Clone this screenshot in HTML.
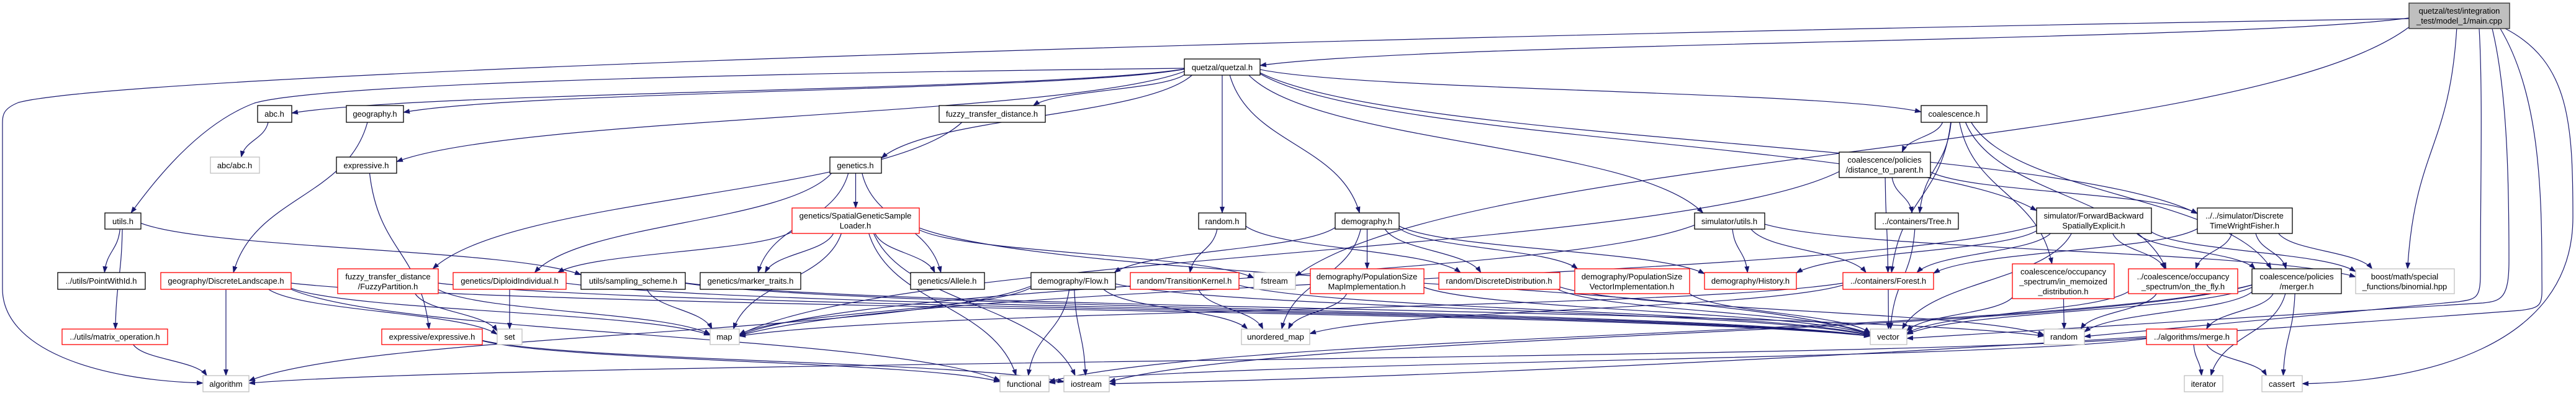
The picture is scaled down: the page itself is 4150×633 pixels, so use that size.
<!DOCTYPE html>
<html><head><meta charset="utf-8"><style>
html,body{margin:0;padding:0;background:#fff;}
svg{display:block;}
text{font-family:"Liberation Sans",Arial,sans-serif;font-size:13px;fill:#000;text-anchor:middle;}
</style></head><body>
<svg id="g" width="4150" height="633" viewBox="0 0 4150 633" xmlns="http://www.w3.org/2000/svg">
<defs><marker id="ah" markerWidth="11" markerHeight="8" refX="10" refY="4" orient="auto" markerUnits="userSpaceOnUse"><path d="M0,0 L11,4 L0,8 z" fill="#191970"/></marker></defs>
<g id="edges" fill="none" stroke="#191970" stroke-width="1.2"></g>
<g id="nodes">
<rect x="3881" y="5" width="162" height="41" fill="#bfbfbf" stroke="#404040" stroke-width="1.5"/><text x="3962" y="22">quetzal/test/integration</text><text x="3962" y="38">_test/model_1/main.cpp</text>
<rect x="1908" y="95" width="122" height="26" fill="#fff" stroke="#000" stroke-width="1.3"/><text x="1969" y="113">quetzal/quetzal.h</text>
<rect x="415" y="170" width="55" height="27" fill="#fff" stroke="#000" stroke-width="1.3"/><text x="442" y="188">abc.h</text>
<rect x="558" y="170" width="92" height="27" fill="#fff" stroke="#000" stroke-width="1.3"/><text x="604" y="188">geography.h</text>
<rect x="1513" y="170" width="171" height="27" fill="#fff" stroke="#000" stroke-width="1.3"/><text x="1598" y="188">fuzzy_transfer_distance.h</text>
<rect x="3095" y="170" width="106" height="27" fill="#fff" stroke="#000" stroke-width="1.3"/><text x="3148" y="188">coalescence.h</text>
<rect x="339" y="253" width="79" height="26" fill="#fff" stroke="#bfbfbf" stroke-width="1.3"/><text x="378" y="271">abc/abc.h</text>
<rect x="542" y="253" width="97" height="26" fill="#fff" stroke="#000" stroke-width="1.3"/><text x="590" y="271">expressive.h</text>
<rect x="1337" y="253" width="83" height="26" fill="#fff" stroke="#000" stroke-width="1.3"/><text x="1378" y="271">genetics.h</text>
<rect x="2963" y="245" width="147" height="41" fill="#fff" stroke="#000" stroke-width="1.3"/><text x="3036" y="262">coalescence/policies</text><text x="3036" y="278">/distance_to_parent.h</text>
<rect x="169" y="343" width="58" height="26" fill="#fff" stroke="#000" stroke-width="1.3"/><text x="198" y="361">utils.h</text>
<rect x="1276" y="335" width="205" height="41" fill="#fff" stroke="#ff0000" stroke-width="1.3"/><text x="1378" y="352">genetics/SpatialGeneticSample</text><text x="1378" y="368">Loader.h</text>
<rect x="1931" y="343" width="76" height="26" fill="#fff" stroke="#000" stroke-width="1.3"/><text x="1969" y="361">random.h</text>
<rect x="2151" y="343" width="103" height="26" fill="#fff" stroke="#000" stroke-width="1.3"/><text x="2202" y="361">demography.h</text>
<rect x="2730" y="343" width="113" height="26" fill="#fff" stroke="#000" stroke-width="1.3"/><text x="2786" y="361">simulator/utils.h</text>
<rect x="3021" y="343" width="134" height="26" fill="#fff" stroke="#000" stroke-width="1.3"/><text x="3088" y="361">../containers/Tree.h</text>
<rect x="3281" y="335" width="185" height="41" fill="#fff" stroke="#000" stroke-width="1.3"/><text x="3373" y="352">simulator/ForwardBackward</text><text x="3373" y="368">SpatiallyExplicit.h</text>
<rect x="3540" y="335" width="153" height="41" fill="#fff" stroke="#000" stroke-width="1.3"/><text x="3616" y="352">../../simulator/Discrete</text><text x="3616" y="368">TimeWrightFisher.h</text>
<rect x="93" y="439" width="141" height="27" fill="#fff" stroke="#000" stroke-width="1.3"/><text x="163" y="457">../utils/PointWithId.h</text>
<rect x="259" y="439" width="210" height="27" fill="#fff" stroke="#ff0000" stroke-width="1.3"/><text x="364" y="457">geography/DiscreteLandscape.h</text>
<rect x="544" y="433" width="162" height="40" fill="#fff" stroke="#ff0000" stroke-width="1.3"/><text x="625" y="450">fuzzy_transfer_distance</text><text x="625" y="466">/FuzzyPartition.h</text>
<rect x="730" y="439" width="182" height="27" fill="#fff" stroke="#ff0000" stroke-width="1.3"/><text x="821" y="457">genetics/DiploidIndividual.h</text>
<rect x="936" y="439" width="168" height="27" fill="#fff" stroke="#000" stroke-width="1.3"/><text x="1020" y="457">utils/sampling_scheme.h</text>
<rect x="1128" y="439" width="162" height="27" fill="#fff" stroke="#000" stroke-width="1.3"/><text x="1209" y="457">genetics/marker_traits.h</text>
<rect x="1467" y="439" width="119" height="27" fill="#fff" stroke="#000" stroke-width="1.3"/><text x="1526" y="457">genetics/Allele.h</text>
<rect x="1661" y="439" width="136" height="27" fill="#fff" stroke="#000" stroke-width="1.3"/><text x="1729" y="457">demography/Flow.h</text>
<rect x="1821" y="439" width="175" height="27" fill="#fff" stroke="#ff0000" stroke-width="1.3"/><text x="1908" y="457">random/TransitionKernel.h</text>
<rect x="2020" y="439" width="67" height="27" fill="#fff" stroke="#bfbfbf" stroke-width="1.3"/><text x="2053" y="457">fstream</text>
<rect x="2111" y="433" width="183" height="40" fill="#fff" stroke="#ff0000" stroke-width="1.3"/><text x="2202" y="450">demography/PopulationSize</text><text x="2202" y="466">MapImplementation.h</text>
<rect x="2318" y="439" width="195" height="27" fill="#fff" stroke="#ff0000" stroke-width="1.3"/><text x="2415" y="457">random/DiscreteDistribution.h</text>
<rect x="2537" y="433" width="185" height="40" fill="#fff" stroke="#ff0000" stroke-width="1.3"/><text x="2629" y="450">demography/PopulationSize</text><text x="2629" y="466">VectorImplementation.h</text>
<rect x="2746" y="439" width="148" height="27" fill="#fff" stroke="#ff0000" stroke-width="1.3"/><text x="2820" y="457">demography/History.h</text>
<rect x="2969" y="439" width="146" height="27" fill="#fff" stroke="#ff0000" stroke-width="1.3"/><text x="3042" y="457">../containers/Forest.h</text>
<rect x="3242" y="425" width="164" height="56" fill="#fff" stroke="#ff0000" stroke-width="1.3"/><text x="3324" y="442">coalescence/occupancy</text><text x="3324" y="458">_spectrum/in_memoized</text><text x="3324" y="474">_distribution.h</text>
<rect x="3429" y="433" width="176" height="40" fill="#fff" stroke="#ff0000" stroke-width="1.3"/><text x="3517" y="450">../coalescence/occupancy</text><text x="3517" y="466">_spectrum/on_the_fly.h</text>
<rect x="3628" y="433" width="144" height="40" fill="#fff" stroke="#000" stroke-width="1.3"/><text x="3700" y="450">coalescence/policies</text><text x="3700" y="466">/merger.h</text>
<rect x="3795" y="433" width="159" height="40" fill="#fff" stroke="#bfbfbf" stroke-width="1.3"/><text x="3874" y="450">boost/math/special</text><text x="3874" y="466">_functions/binomial.hpp</text>
<rect x="100" y="530" width="170" height="25" fill="#fff" stroke="#ff0000" stroke-width="1.3"/><text x="185" y="547">../utils/matrix_operation.h</text>
<rect x="615" y="530" width="162" height="25" fill="#fff" stroke="#ff0000" stroke-width="1.3"/><text x="696" y="547">expressive/expressive.h</text>
<rect x="801" y="530" width="40" height="25" fill="#fff" stroke="#bfbfbf" stroke-width="1.3"/><text x="821" y="547">set</text>
<rect x="1144" y="530" width="47" height="25" fill="#fff" stroke="#bfbfbf" stroke-width="1.3"/><text x="1167" y="547">map</text>
<rect x="2000" y="530" width="110" height="25" fill="#fff" stroke="#bfbfbf" stroke-width="1.3"/><text x="2055" y="547">unordered_map</text>
<rect x="3013" y="530" width="59" height="25" fill="#fff" stroke="#bfbfbf" stroke-width="1.3"/><text x="3042" y="547">vector</text>
<rect x="3293" y="530" width="65" height="25" fill="#fff" stroke="#bfbfbf" stroke-width="1.3"/><text x="3325" y="547">random</text>
<rect x="3458" y="530" width="146" height="25" fill="#fff" stroke="#ff0000" stroke-width="1.3"/><text x="3531" y="547">../algorithms/merge.h</text>
<rect x="327" y="605" width="74" height="26" fill="#fff" stroke="#bfbfbf" stroke-width="1.3"/><text x="364" y="623">algorithm</text>
<rect x="1611" y="605" width="79" height="26" fill="#fff" stroke="#bfbfbf" stroke-width="1.3"/><text x="1650" y="623">functional</text>
<rect x="1714" y="605" width="73" height="26" fill="#fff" stroke="#bfbfbf" stroke-width="1.3"/><text x="1750" y="623">iostream</text>
<rect x="3519" y="605" width="62" height="26" fill="#fff" stroke="#bfbfbf" stroke-width="1.3"/><text x="3550" y="623">iterator</text>
<rect x="3644" y="605" width="65" height="26" fill="#fff" stroke="#bfbfbf" stroke-width="1.3"/><text x="3676" y="623">cassert</text>
</g>
</svg>
<script>
var B={main:[3881,5,4043,46],q:[1908,95,2030,121],abc:[415,170,470,197],geo:[558,170,650,197],ftd:[1513,170,1684,197],coal:[3095,170,3201,197],abcabc:[339,253,418,279],expr:[542,253,639,279],gen:[1337,253,1420,279],dtp:[2963,245,3110,286],utils:[169,343,227,369],sgs:[1276,335,1481,376],rnd:[1931,343,2007,369],demo:[2151,343,2254,369],su:[2730,343,2843,369],tree:[3021,343,3155,369],fbse:[3281,335,3466,376],dtwf:[3540,335,3693,376],pwi:[93,439,234,466],dl:[259,439,469,466],fp:[544,433,706,473],di:[730,439,912,466],ss:[936,439,1104,466],mt:[1128,439,1290,466],al:[1467,439,1586,466],flow:[1661,439,1797,466],tk:[1821,439,1996,466],fs:[2020,439,2087,466],psm:[2111,433,2294,473],dd:[2318,439,2513,466],psv:[2537,433,2722,473],hist:[2746,439,2894,466],forest:[2969,439,3115,466],imd:[3242,425,3406,481],otf:[3429,433,3605,473],mer:[3628,433,3772,473],bin:[3795,433,3954,473],mo:[100,530,270,555],ee:[615,530,777,555],set:[801,530,841,555],map:[1144,530,1191,555],um:[2000,530,2110,555],vec:[3013,530,3072,555],rand:[3293,530,3358,555],merge:[3458,530,3604,555],alg:[327,605,401,631],fun:[1611,605,1690,631],ios:[1714,605,1787,631],it:[3519,605,3581,631],ca:[3644,605,3709,631]};
var E="main q,main bin,main fs,q abc,q geo,q ftd,q expr,q gen,q rnd,q demo,q su,q coal,q fbse,q dtwf,abc abcabc,geo dl,expr ee,ftd fp,gen sgs,gen mt,gen al,gen di,sgs di,sgs mt,sgs al,sgs map,sgs fs,sgs ios,sgs vec,sgs fun,utils pwi,utils mo,utils ss,mo alg,dl alg,dl set,dl map,dl vec,dl fun,fp set,fp map,fp vec,di set,di vec,ss map,ss rand,ss vec,ee fun,ee ios,rnd tk,rnd dd,tk um,tk vec,demo flow,demo psm,demo psv,demo hist,demo dd,demo um,flow map,flow fun,flow ios,flow um,flow vec,flow alg,psm um,psm vec,dd vec,dd rand,psv vec,su hist,su forest,su map,su bin,coal dtp,coal tree,coal forest,coal imd,coal otf,coal mer,dtp tree,dtp forest,dtp dtwf,dtp map,tree vec,fbse hist,fbse forest,fbse otf,fbse mer,fbse bin,fbse map,fbse vec,dtwf forest,dtwf otf,dtwf mer,dtwf bin,forest vec,forest map,forest um,imd rand,imd vec,otf rand,otf vec,mer rand,mer merge,mer it,mer ca,mer vec,mer fun,mer ios,merge it,merge ca,merge fun,merge alg".split(",");
var g=document.getElementById("edges"),ns="http://www.w3.org/2000/svg";
function bp(b,tx,ty){var cx=(b[0]+b[2])/2,cy=(b[1]+b[3])/2,w=(b[2]-b[0])/2,h=(b[3]-b[1])/2,dx=tx-cx,dy=ty-cy;var t=Math.min(dx?w/Math.abs(dx):1e9,dy?h/Math.abs(dy):1e9);return[cx+dx*t,cy+dy*t];}
function add(d){var p=document.createElementNS(ns,"path");p.setAttribute("d",d);p.setAttribute("marker-end","url(#ah)");g.appendChild(p);}
E.forEach(function(e){var a=e.split(" "),s=B[a[0]],t=B[a[1]];var sc=[(s[0]+s[2])/2,(s[1]+s[3])/2],tc=[(t[0]+t[2])/2,(t[1]+t[3])/2];
var p1=bp(s,tc[0],tc[1]),p2=bp(t,sc[0],sc[1]);var my=(p1[1]+p2[1])/2;
if(Math.abs(p2[1]-p1[1])>40) add("M"+p1[0]+","+p1[1]+" C"+(p1[0]*0.85+p2[0]*0.15)+","+my+" "+(p1[0]*0.15+p2[0]*0.85)+","+my+" "+p2[0]+","+p2[1]);
else add("M"+p1[0]+","+p1[1]+" L"+p2[0]+","+p2[1]);});
add("M3881,30 C2000,60 200,120 30,165 C5,175 4,185 4,200 L4,465 C4,560 150,612 327,617");
add("M1908,110 C1000,120 500,140 410,166 C320,200 250,290 211,343");
add("M3994,46 C4000,150 3996,300 3996,440 C3996,480 3990,482 3960,486 L3358,542");
add("M4015,46 C4040,150 4042,300 4042,420 C4042,480 4030,485 4000,488 L3072,545");
add("M4028,46 C4090,150 4095,300 4095,440 C4095,490 4100,495 4060,500 C3000,580 2200,610 1787,618");
add("M4036,46 C4140,100 4145,200 4145,350 C4145,560 3900,615 3709,618");
</script>
</body></html>
